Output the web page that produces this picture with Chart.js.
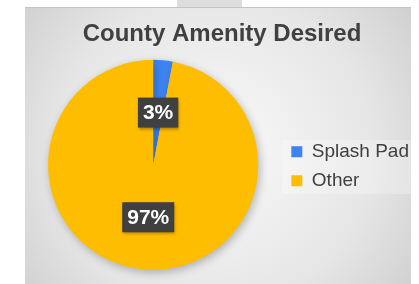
<!DOCTYPE html>
<html>
<head>
<meta charset="utf-8">
<script src="https://cdn.jsdelivr.net/npm/chart.js@4"></script>
<style>
  html, body { margin: 0; padding: 0; background: #fff; }
  #wrap { width: 419px; height: 284px; }
</style>
</head>
<body>
<div id="wrap"><canvas id="myChart" width="419" height="284"></canvas></div>
<script>
"use strict";

// ========== DATA ==========
const labels = ["Splash Pad", "Other"];
const values = [3, 97];
const colors = ["#3d84f2", "#ffbd00"];

const FONT = "'Liberation Sans', Arial, sans-serif";

// panel background + little tab at top
const panelBg = {
  id: "panelBg",
  beforeDraw(chart) {
    const ctx = chart.ctx;
    ctx.save();
    ctx.fillStyle = "#ffffff";
    ctx.fillRect(0, 0, chart.width, chart.height);
    ctx.fillStyle = "#dddddd";
    ctx.fillRect(177, 0, 65, 8);
    const g = ctx.createRadialGradient(215, 150, 20, 215, 150, 270);
    g.addColorStop(0, "#f7f7f7");
    g.addColorStop(0.55, "#e6e6e6");
    g.addColorStop(1, "#c9c9c9");
    ctx.fillStyle = g;
    ctx.fillRect(25, 7, 386, 277);
    ctx.fillStyle = "#c4c4c4";
    ctx.fillRect(25, 7, 386, 1);
    // lighter legend area
    ctx.fillStyle = "rgba(255,255,255,0.25)";
    ctx.fillRect(282, 140, 129, 54);
    ctx.restore();
  },
  beforeDatasetsDraw(chart) {
    const ctx = chart.ctx;
    ctx.save();
    ctx.shadowColor = "rgba(0,0,0,0.25)";
    ctx.shadowBlur = 8;
    ctx.shadowOffsetX = 2;
    ctx.shadowOffsetY = 3;
  },
  afterDatasetsDraw(chart) {
    chart.ctx.restore();
  }
};

// dark boxed percentage labels
const boxLabels = {
  id: "boxLabels",
  afterDatasetsDraw(chart) {
    const ctx = chart.ctx;
    const meta = chart.getDatasetMeta(0);
    const total = values.reduce((a, b) => a + b, 0);
    ctx.save();
    ctx.font = "bold 21px " + FONT;
    ctx.textAlign = "center";
    ctx.textBaseline = "middle";
    meta.data.forEach((arc, i) => {
      const p = arc.tooltipPosition();
      const txt = Math.round(values[i] / total * 100) + "%";
      const w = ctx.measureText(txt).width + 10;
      const h = 30;
      ctx.shadowColor = "rgba(0,0,0,0.35)";
      ctx.shadowBlur = 3;
      ctx.shadowOffsetX = 1;
      ctx.shadowOffsetY = 2;
      ctx.fillStyle = "#404040";
      ctx.fillRect(p.x - w / 2, p.y - h / 2, w, h);
      ctx.shadowColor = "transparent";
      ctx.fillStyle = "#ffffff";
      ctx.fillText(txt, p.x, p.y + 1);
    });
    ctx.restore();
  }
};

const ctx = document.getElementById("myChart").getContext("2d");
new Chart(ctx, {
  type: "pie",
  data: {
    labels: labels,
    datasets: [{
      data: values,
      backgroundColor: colors,
      borderWidth: 0
    }]
  },
  options: {
    responsive: false,
    animation: false,
    layout: { padding: { top: 8, bottom: 14, left: 25, right: 0 } },
    plugins: {
      title: {
        display: true,
        text: "County Amenity Desired",
        color: "#404040",
        font: { family: FONT, size: 24, weight: "bold" },
        padding: { top: 12, bottom: 11 }
      },
      legend: {
        display: true,
        position: "right",
        title: { display: true, text: "", padding: { top: 20, bottom: 20 } },
        labels: {
          color: "#404040",
          boxWidth: 11,
          boxHeight: 11,
          padding: 10,
          font: { family: FONT, size: 19 }
        }
      },
      tooltip: { enabled: false }
    }
  },
  plugins: [panelBg, boxLabels]
});
</script>
</body>
</html>
